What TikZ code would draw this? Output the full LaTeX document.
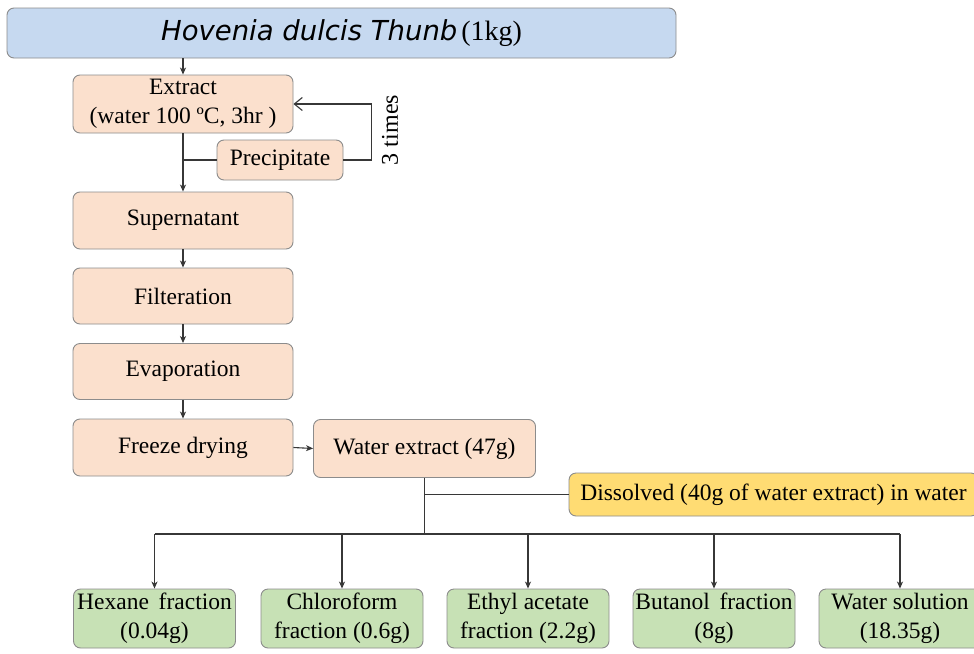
\documentclass[tikz,border=0pt]{standalone}
\usepackage{fontspec}
\setmainfont{Liberation Serif}
\newfontfamily\hovfont{DejaVu Sans}
\usetikzlibrary{arrows.meta}
\definecolor{peach}{RGB}{251,224,205}
\definecolor{topblue}{RGB}{198,217,240}
\definecolor{dissyellow}{RGB}{255,220,115}
\definecolor{fracgreen}{RGB}{199,225,181}
\definecolor{edgegray}{RGB}{140,140,140}
\definecolor{linegray}{RGB}{55,55,55}
\newcommand{\boxfont}{\fontsize{23.5}{29}\selectfont}
\tikzset{
  box/.style={draw=edgegray, line width=0.9pt, rounded corners=7pt, inner sep=0pt,
    align=center, font=\boxfont, text=black},
  peachbox/.style={box, fill=peach},
  fracbox/.style={box, fill=fracgreen, minimum width=162pt, minimum height=59pt},
  conn/.style={draw=linegray, line width=1.1pt},
  arr/.style={conn, -{Stealth[length=7pt,width=6pt,inset=2pt]}},
  barb/.style={conn, -{Straight Barb[length=8pt,width=13pt]}}
}
\begin{document}
\begin{tikzpicture}[x=1pt,y=-1pt]
\useasboundingbox (0,0) rectangle (974,653);
\fill[white] (0,0) rectangle (974,653);
\clip (0,0) rectangle (974,653);

% top
\node[box, fill=topblue, minimum width=669pt, minimum height=50pt] (top) at (341.5,33)
  {{\hovfont\itshape\fontsize{27.5}{30}\selectfont Hovenia dulcis Thunb}\,{\fontsize{28}{30}\selectfont (1kg)}};

% left column
\node[peachbox, minimum width=220pt, minimum height=58pt] (extract) at (183,104)
  {Extract\\(water 100 ºC, 3hr )};
\node[peachbox, minimum width=126pt, minimum height=40pt] (precip) at (280,160) {Precipitate};
\node[peachbox, minimum width=220pt, minimum height=57pt] (super) at (183,220.5) {Supernatant};
\node[peachbox, minimum width=220pt, minimum height=56pt] (filt) at (183,296) {Filteration};
\node[peachbox, minimum width=220pt, minimum height=56pt] (evap) at (183,371.5) {Evaporation};
\node[peachbox, minimum width=220pt, minimum height=57pt] (freeze) at (183,447.5) {Freeze drying};
\node[peachbox, minimum width=222pt, minimum height=58pt] (wext) at (424.5,448.5) {Water extract (47g)};

\node[rotate=90, font=\fontsize{24}{26}\selectfont, text=black] (times) at (390,130) {3 times};

% dissolved
\node[box, fill=dissyellow, minimum width=409pt, minimum height=43pt] (diss) at (773.5,494.5)
  {Dissolved (40g of water extract) in water};

% fractions
\node[fracbox] (hex) at (154.5,618.5) {Hexane \,fraction\\(0.04g)};
\node[fracbox] (chl) at (342,618.5) {Chloroform\\fraction (0.6g)};
\node[fracbox] (eth) at (528,618.5) {Ethyl acetate\\fraction (2.2g)};
\node[fracbox] (but) at (714,618.5) {Butanol \,fraction\\(8g)};
\node[fracbox] (wsol) at (900,618.5) {Water solution\\(18.35g)};

% connectors
\draw[arr] (top.south -| extract.north) -- (extract.north);
\draw[arr] (extract.south) -- (super.north);
\draw[conn] (precip.west) -- (precip.west -| extract.south);
\draw[barb] (precip.east) -- ++(28,0) |- (extract.east);
\draw[arr] (super.south) -- (filt.north);
\draw[arr] (filt.south) -- (evap.north);
\draw[arr] (evap.south) -- (freeze.north);
\draw[arr] (freeze.east) -- (wext.west);

\coordinate (bus) at (424.5,534);
\draw[conn] (wext.south) -- (bus);
\draw[conn] (diss.west -| wext.south) -- (diss.west);
\draw[conn] (hex.north |- bus) -- (wsol.north |- bus);
\foreach \n in {hex,chl,eth,but,wsol}
  \draw[arr] (\n.north |- bus) -- (\n.north);
\end{tikzpicture}
\end{document}
